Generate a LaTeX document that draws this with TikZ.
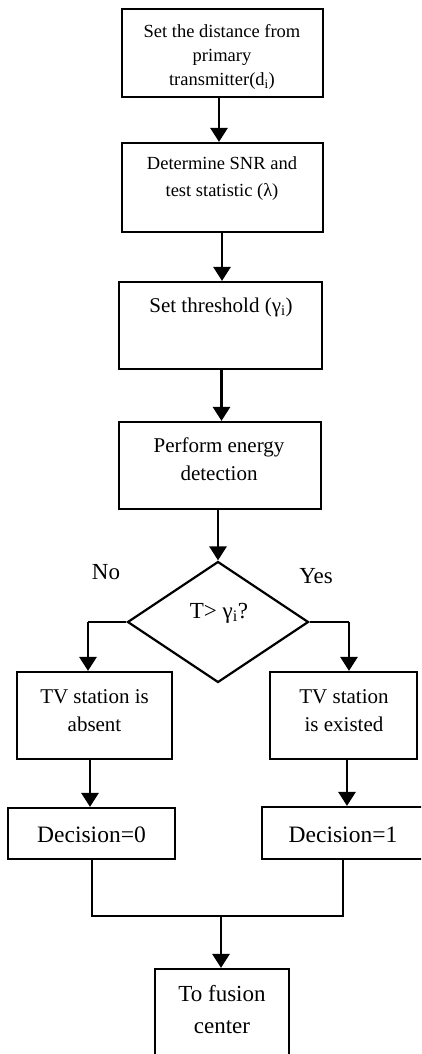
\documentclass[tikz,border=0pt]{standalone}
\usepackage{fontspec}
\setmainfont{Liberation Serif}
\usetikzlibrary{shapes.geometric,arrows.meta}
\newcommand\fsz[2]{\fontsize{#1}{#2}\selectfont}
\begin{document}
\begin{tikzpicture}[x=1pt,y=-1pt,
  box/.style={draw,line width=2.2pt,inner sep=0pt},
  txt/.style={align=center,inner sep=0pt},
  arr/.style={line width=2.8pt,-{Triangle[width=17pt,length=14pt]}},
  ln/.style={line width=2pt}]
\useasboundingbox (0,0) rectangle (421,1054);
\clip (0,0) rectangle (421,1054);
% boxes
\node[box,minimum width=201pt,minimum height=88pt] (b1) at (222.5,53) {};
\node[box,minimum width=201pt,minimum height=89pt] (b2) at (222.5,187.5) {};
\node[box,minimum width=203pt,minimum height=87pt] (b3) at (220.5,325.5) {};
\node[box,minimum width=202pt,minimum height=87pt] (b4) at (220,465.5) {};
\node[box,diamond,minimum width=181pt,minimum height=121pt] (d) at (218,622) {};
\node[box,minimum width=155pt,minimum height=87pt] (tva) at (94.5,715.5) {};
\node[box,minimum width=147pt,minimum height=87pt] (tve) at (343.5,715.5) {};
\node[box,minimum width=167pt,minimum height=51pt] (dc0) at (91.5,833.5) {};
\node[box,minimum width=168pt,minimum height=52pt] (dc1) at (346,833) {};
\node[box,minimum width=134pt,minimum height=91pt] (fin) at (222,1014.5) {};
% texts
\node[txt,font=\fsz{18.5}{24}] (t1) at (222,57) {Set the distance from\\primary\\transmitter(d\textsubscript{i})};
\node[txt,font=\fsz{18.5}{27}] (t2) at (222,179) {Determine SNR and\\test statistic (λ)};
\node[txt,font=\fsz{21}{28}] (t3) at (221,307) {Set threshold (γ\textsubscript{i})};
\node[txt,font=\fsz{21}{28}] (t4) at (219,459) {Perform energy\\detection};
\node[txt,font=\fsz{23}{28}] (td) at (219,613) {T> γ\textsubscript{i}?};
\node[txt,font=\fsz{23}{28}] (no) at (106,572) {No};
\node[txt,font=\fsz{23}{28}] (yes) at (316,576) {Yes};
\node[txt,font=\fsz{21}{28}] (t5) at (94.5,710.5) {TV station is\\absent};
\node[txt,font=\fsz{21}{28}] (t6) at (344,710.5) {TV station\\is existed};
\node[txt,font=\fsz{23.5}{28}] (t7) at (91.5,835) {Decision=0};
\node[txt,font=\fsz{23.5}{28}] (t8) at (343,835) {Decision=1};
\node[txt,font=\fsz{23}{32}] (t9) at (222,1010) {To fusion\\center};
% connectors
\coordinate (a1) at (219,0);
\coordinate (a2) at (222,0);
\coordinate (a3) at (221.5,0);
\coordinate (a4) at (218,0);
\draw[arr] (a1 |- b1.south) -- (a1 |- b2.north);
\draw[arr] (a2 |- b2.south) -- (a2 |- b3.north);
\draw[arr] (a3 |- b3.south) -- (a3 |- b4.north);
\draw[arr] (a4 |- b4.south) -- (d.north);
\coordinate (lk) at (88,622);
\coordinate (rk) at (349,622);
\draw[ln] (d.west) -- (lk);
\draw[arr] (lk) -- (lk |- tva.north);
\draw[ln] (d.east) -- (rk);
\draw[arr] (rk) -- (rk |- tve.north);
\coordinate (a5) at (90,0);
\coordinate (a6) at (347,0);
\draw[arr] (a5 |- tva.south) -- (a5 |- dc0.north);
\draw[arr] (a6 |- tve.south) -- (a6 |- dc1.north);
\coordinate (jl) at (92,916);
\coordinate (jr) at (343,916);
\coordinate (jm) at (221,916);
\draw[ln] (jl |- dc0.south) -- (jl) -- (jr) -- (jr |- dc1.south);
\draw[arr] (jm) -- (jm |- fin.north);
\end{tikzpicture}
\end{document}
